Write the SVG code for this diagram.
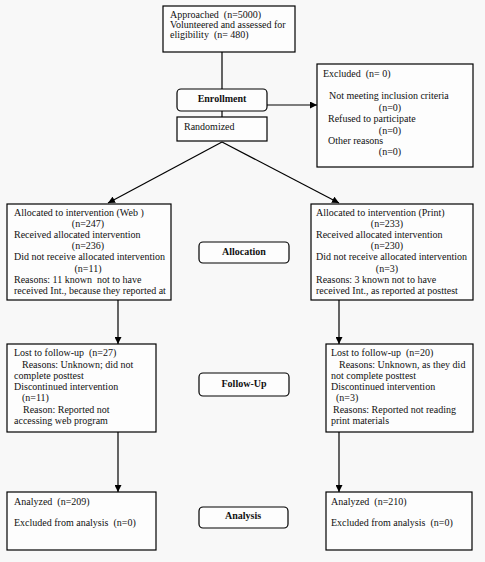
<svg xmlns="http://www.w3.org/2000/svg" width="485" height="562" viewBox="0 0 485 562">
<defs>
<marker id="ah" viewBox="0 0 10 10" refX="10" refY="5" markerWidth="7" markerHeight="7" markerUnits="userSpaceOnUse" orient="auto"><path d="M0,0 L10,5 L0,10 z" fill="#000"/></marker>
<style>
.box{fill:#fdfdfd;stroke:#000;stroke-width:1.2}
.lbl{fill:#fdfdfd;stroke:#000;stroke-width:1.2}
text{font-family:"Liberation Serif","Times New Roman",serif;font-size:10px;fill:#111;white-space:pre}
.b{font-weight:bold;text-anchor:middle}
.c{text-anchor:middle}
.ln{stroke:#000;stroke-width:1.2;fill:none}
</style>
</defs>
<rect width="485" height="562" fill="#f8f8f8"/>
<g id="connectors">
<line class="ln" x1="222" y1="52" x2="222" y2="89"/>
<line class="ln" x1="222" y1="111" x2="222" y2="118"/>
<line class="ln" x1="267" y1="105" x2="317" y2="105" marker-end="url(#ah)"/>
<line class="ln" x1="222" y1="142" x2="108" y2="203" marker-end="url(#ah)"/>
<line class="ln" x1="222" y1="142" x2="339" y2="203" marker-end="url(#ah)"/>
<line class="ln" x1="118" y1="300" x2="118" y2="344" marker-end="url(#ah)"/>
<line class="ln" x1="339" y1="300" x2="339" y2="344" marker-end="url(#ah)"/>
<line class="ln" x1="118" y1="432" x2="118" y2="492" marker-end="url(#ah)"/>
<line class="ln" x1="339" y1="432" x2="339" y2="492" marker-end="url(#ah)"/>
</g>
<g id="approached">
<rect class="box" x="163" y="6" width="132" height="46"/>
<text x="170" y="18">Approached  (n=5000)</text>
<text x="170" y="28">Volunteered and assessed for</text>
<text x="170" y="38">eligibility  (n= 480)</text>
</g>
<g id="enrollment">
<rect class="lbl" x="177" y="89" width="90" height="22" rx="4"/>
<text class="b" x="222" y="102">Enrollment</text>
</g>
<g id="randomized">
<rect class="box" x="177" y="117" width="90" height="24"/>
<text x="184" y="130">Randomized</text>
</g>
<g id="excluded">
<rect class="box" x="317" y="64" width="156" height="103"/>
<text x="323" y="77">Excluded  (n= 0)</text>
<text x="329" y="99">Not meeting inclusion criteria</text>
<text class="c" x="390" y="111">(n=0)</text>
<text x="328" y="122">Refused to participate</text>
<text class="c" x="390" y="134">(n=0)</text>
<text x="328" y="144">Other reasons</text>
<text class="c" x="390" y="155">(n=0)</text>
</g>
<g id="alloc-web">
<rect class="box" x="7" y="204" width="164" height="96"/>
<text x="14" y="216">Allocated to intervention (Web )</text>
<text class="c" x="88" y="227">(n=247)</text>
<text x="14" y="238">Received allocated intervention</text>
<text class="c" x="88" y="249">(n=236)</text>
<text x="14" y="260">Did not receive allocated intervention</text>
<text class="c" x="88" y="272">(n=11)</text>
<text x="14" y="283">Reasons: 11 known  not to have</text>
<text x="14" y="294">received Int., because they reported at</text>
</g>
<g id="allocation">
<rect class="lbl" x="199" y="242" width="90" height="21" rx="4"/>
<text class="b" x="244" y="255">Allocation</text>
</g>
<g id="alloc-print">
<rect class="box" x="311" y="204" width="162" height="96"/>
<text x="316" y="216">Allocated to intervention (Print)</text>
<text class="c" x="387" y="227">(n=233)</text>
<text x="316" y="238">Received allocated intervention</text>
<text class="c" x="387" y="249">(n=230)</text>
<text x="316" y="260">Did not receive allocated intervention</text>
<text class="c" x="387" y="272">(n=3)</text>
<text x="316" y="283">Reasons: 3 known not to have</text>
<text x="316" y="294">received Int., as reported at posttest</text>
</g>
<g id="followup-web">
<rect class="box" x="7" y="344" width="149" height="88"/>
<text x="14" y="356">Lost to follow-up  (n=27)</text>
<text x="22" y="368">Reasons: Unknown; did not</text>
<text x="14" y="379">complete posttest</text>
<text x="14" y="390">Discontinued intervention</text>
<text x="22" y="401">(n=11)</text>
<text x="23" y="413">Reason: Reported not</text>
<text x="14" y="424">accessing web program</text>
</g>
<g id="followup">
<rect class="lbl" x="199" y="373" width="90" height="23" rx="4"/>
<text class="b" x="244" y="387">Follow-Up</text>
</g>
<g id="followup-print">
<rect class="box" x="326" y="344" width="147" height="88"/>
<text x="331" y="356">Lost to follow-up  (n=20)</text>
<text x="339" y="368">Reasons: Unknown, as they did</text>
<text x="331" y="379">not complete posttest</text>
<text x="331" y="390">Discontinued intervention</text>
<text x="336" y="401">(n=3)</text>
<text x="333" y="413">Reasons: Reported not reading</text>
<text x="331" y="424">print materials</text>
</g>
<g id="analyzed-web">
<rect class="box" x="7" y="492" width="149" height="58"/>
<text x="14" y="505">Analyzed  (n=209)</text>
<text x="14" y="526">Excluded from analysis  (n=0)</text>
</g>
<g id="analysis">
<rect class="lbl" x="199" y="507" width="89" height="21" rx="4"/>
<text class="b" x="243" y="519">Analysis</text>
</g>
<g id="analyzed-print">
<rect class="box" x="326" y="492" width="146" height="58"/>
<text x="331" y="505">Analyzed  (n=210)</text>
<text x="331" y="526">Excluded from analysis  (n=0)</text>
</g>
</svg>
